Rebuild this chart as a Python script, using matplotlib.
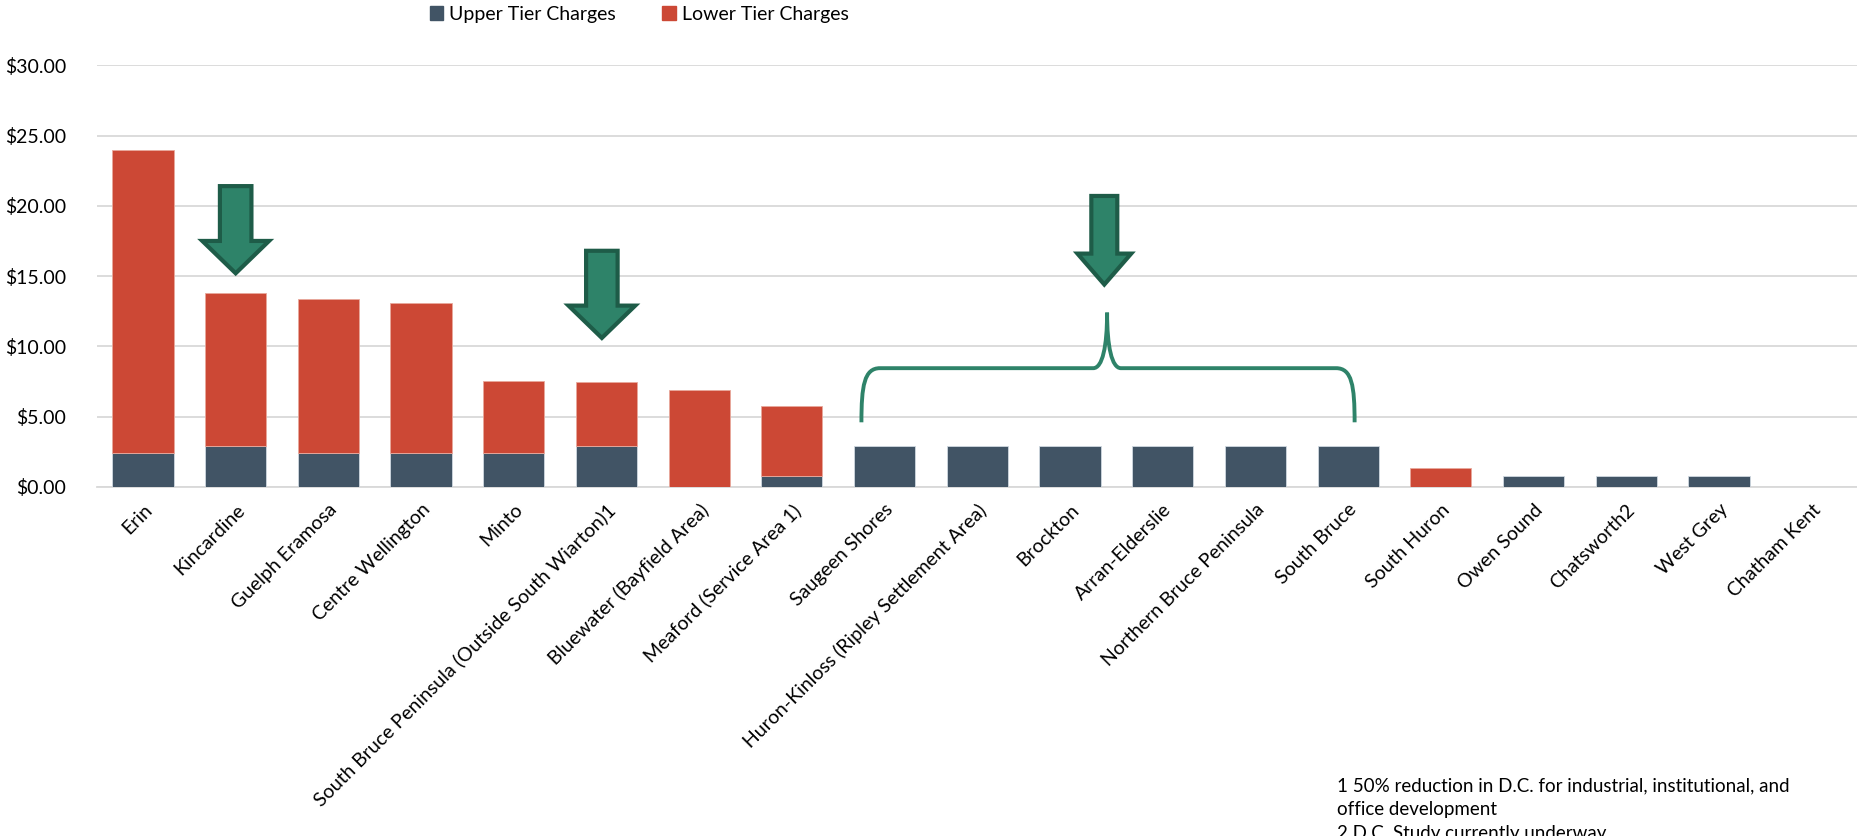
import matplotlib.pyplot as plt
import numpy as np
from matplotlib.patches import Polygon, PathPatch, Patch
from matplotlib.path import Path

plt.rcParams['font.family'] = ['Lato', 'DejaVu Sans']

municipalities = ['Erin', 'Kincardine', 'Guelph Eramosa', 'Centre Wellington', 'Minto',
                  'South Bruce Peninsula (Outside South Wiarton)1', 'Bluewater (Bayfield Area)',
                  'Meaford (Service Area 1)', 'Saugeen Shores', 'Huron-Kinloss (Ripley Settlement Area)',
                  'Brockton', 'Arran-Elderslie', 'Northern Bruce Peninsula', 'South Bruce',
                  'South Huron', 'Owen Sound', 'Chatsworth2', 'West Grey', 'Chatham Kent']
upper_tier = [2.42, 2.90, 2.42, 2.42, 2.42, 2.90, 0.00, 0.80, 2.90, 2.90,
              2.90, 2.90, 2.90, 2.90, 0.00, 0.80, 0.80, 0.80, 0.00]
total_charge = [24.00, 13.80, 13.37, 13.08, 7.54, 7.47, 6.92, 5.78, 2.90, 2.90,
                2.90, 2.90, 2.90, 2.90, 1.35, 0.80, 0.80, 0.80, 0.00]
lower_tier = [t - u for t, u in zip(total_charge, upper_tier)]

UPPER_COL = '#415465'
LOWER_COL = '#CC4835'
GREEN = '#2E8369'
GREEN_EDGE = '#1E5C48'

fig = plt.figure(figsize=(18.58, 8.36), dpi=100)
ax = fig.add_axes([0.052, 0.4175, 0.948, 0.5045])

x = np.arange(len(municipalities))
up_edges = ['#D0D8E0' if v > 0 else 'none' for v in upper_tier]
low_edges = ['#E8A89C' if v > 0.01 else 'none' for v in lower_tier]
ax.bar(x, upper_tier, width=0.66, color=UPPER_COL, edgecolor=up_edges, linewidth=0.6, zorder=3)
ax.bar(x, lower_tier, bottom=upper_tier, width=0.66, color=LOWER_COL,
       edgecolor=low_edges, linewidth=0.6, zorder=3)

ax.set_xlim(-0.5, len(municipalities) - 0.5)
ax.set_ylim(0, 30)
ax.set_yticks(np.arange(0, 31, 5))
ax.set_yticklabels(['${:.2f}'.format(v) for v in np.arange(0, 31, 5)], fontsize=14)
ax.yaxis.grid(True, color='#D9D9D9', linewidth=1.3, zorder=0)
ax.set_xticks(x)
ax.set_xticklabels(municipalities, rotation=45, ha='right', rotation_mode='anchor', fontsize=14)
ax.tick_params(axis='both', length=0)
ax.tick_params(axis='y', pad=22)
ax.tick_params(axis='x', pad=10)
for s in ['top', 'right', 'left']:
    ax.spines[s].set_visible(False)
ax.spines['bottom'].set_color('#D9D9D9')
ax.spines['bottom'].set_linewidth(1.3)


# block arrows: (center x, top y, head start y, tip y)
def block_arrow(cx, top, neck, tip, shaft=0.17, head=0.36):
    pts = [(cx - shaft, top), (cx + shaft, top), (cx + shaft, neck), (cx + head, neck),
           (cx, tip), (cx - head, neck), (cx - shaft, neck)]
    ax.add_patch(Polygon(pts, closed=True, facecolor=GREEN, edgecolor=GREEN_EDGE,
                         linewidth=3, zorder=5, clip_on=False))


block_arrow(1.0, 21.4, 17.5, 15.2)
block_arrow(4.95, 16.8, 12.9, 10.6)
block_arrow(10.37, 20.7, 16.6, 14.4, shaft=0.14, head=0.29)

# curly brace over the flat-rate group
bl, br, bc = 7.75, 13.07, 10.4
yb, yh, yp = 4.6, 8.45, 12.4
verts = [(bl, yb), (bl, 7.2), (bl + 0.03, yh), (bl + 0.2, yh),
         (bc - 0.15, yh),
         (bc - 0.05, yh), (bc, 10.0), (bc, yp),
         (bc, 10.0), (bc + 0.05, yh), (bc + 0.15, yh),
         (br - 0.2, yh),
         (br - 0.03, yh), (br, 7.2), (br, yb)]
codes = [Path.MOVETO, Path.CURVE4, Path.CURVE4, Path.CURVE4,
         Path.LINETO,
         Path.CURVE4, Path.CURVE4, Path.CURVE4,
         Path.CURVE4, Path.CURVE4, Path.CURVE4,
         Path.LINETO,
         Path.CURVE4, Path.CURVE4, Path.CURVE4]
ax.add_patch(PathPatch(Path(verts, codes), facecolor='none', edgecolor=GREEN,
                       linewidth=2.8, zorder=5, capstyle='butt'))

handles = [Patch(color=UPPER_COL, label='Upper Tier Charges'),
           Patch(color=LOWER_COL, label='Lower Tier Charges')]
fig.legend(handles=handles, loc='center', bbox_to_anchor=(0.344, 0.983), ncol=2, frameon=False,
           fontsize=14, handlelength=0.7, handleheight=0.7, handletextpad=0.3, columnspacing=2.4)

fig.text(0.7195, 0.07, '1 50% reduction in D.C. for industrial, institutional, and\n'
         'office development\n2 D.C. Study currently underway',
         fontsize=13.5, va='top', ha='left', linespacing=1.5)

fig.savefig('out.png', dpi=100)
